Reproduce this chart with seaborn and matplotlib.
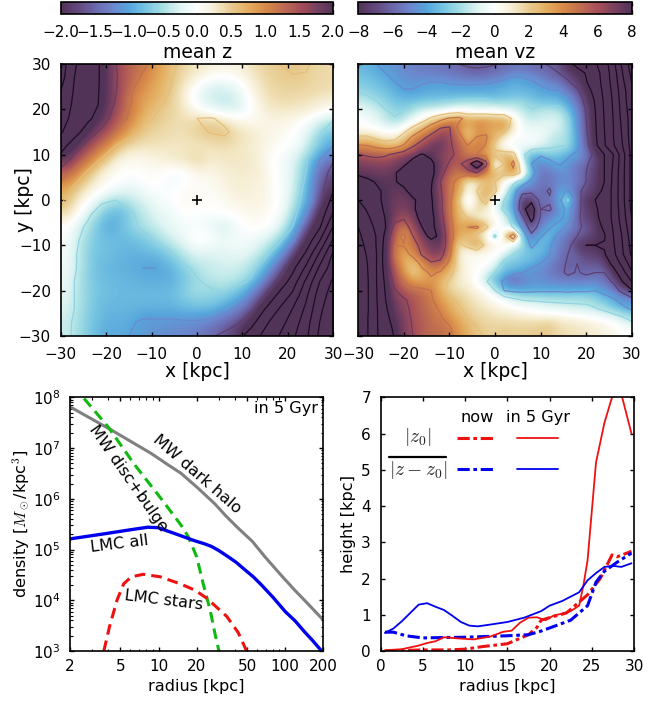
import numpy as np
import matplotlib
matplotlib.use('Agg')
import matplotlib.pyplot as plt
from matplotlib.colors import LinearSegmentedColormap, Normalize
from matplotlib.cm import ScalarMappable
import seaborn as sns

# mean z map [kpc], rows y = 30 ... -30, columns x = -30 ... 30, step 3 kpc
mean_z = [
    [3.3, 2.55, 2.25, 1.95, 1.52, 1.3, 1.1, .85, .6, .4, .3, .2, .15, .15, .3, .42, .5, .53, .53, .42, .4],
    [3.2, 2.5, 2.25, 1.95, 1.55, 1.25, .95, .75, .55, .3, .05, -.2, -.2, -.1, .15, .35, .45, .49, .48, .42, .4],
    [3.0, 2.45, 2.2, 1.95, 1.55, 1.05, .85, .7, .5, .2, -.2, -.35, -.4, -.3, 0, .3, .4, .4, .38, .35, .3],
    [2.85, 2.4, 2.15, 1.95, 1.45, 1.05, .75, .55, .45, .3, 0, -.15, -.3, -.3, -.05, .2, .3, .3, .28, .2, .05],
    [2.7, 2.35, 2.1, 1.75, 1.3, .95, .58, .48, .4, .35, .5, .53, .42, .2, .1, .1, .15, .1, 0, -.2, -.45],
    [2.55, 2.2, 1.75, 1.4, 1.0, .65, .45, .4, .35, .35, .42, .52, .56, .4, .3, .2, .1, .05, -.1, -.45, -.8],
    [2.2, 1.75, 1.35, .95, .5, .3, .3, .3, .3, .3, .3, .3, .35, .3, .25, .15, .05, -.05, -.2, -.6, -1.0],
    [1.85, 1.35, .9, .45, .12, .05, .1, .15, .25, .3, .45, .25, .3, .3, .3, .15, -.05, -.15, -.45, -1.0, -1.45],
    [1.3, .85, .4, .1, 0, 0, .05, .05, -.1, -.1, .1, .1, .2, .25, .25, .2, 0, -.15, -.5, -1.2, -1.7],
    [.85, .45, .2, .05, -.1, -.2, -.05, 0, -.1, .05, .05, .05, .15, .25, .2, .15, 0, -.15, -.6, -1.3, -1.9],
    [.6, .2, -.1, -.4, -.5, -.35, -.25, -.1, 0, .1, .05, .05, .05, .15, .2, .15, .05, -.2, -.7, -1.3, -2.2],
    [.42, -.05, -.4, -.75, -.9, -.6, -.35, -.2, -.15, 0, 0, -.05, .05, .05, .1, .1, 0, -.3, -.9, -1.65, -2.55],
    [0, -.3, -.6, -1.0, -.85, -.6, -.45, -.3, -.15, -.1, -.1, -.15, -.35, -.1, .05, .05, -.1, -.5, -1.3, -1.95, -3.05],
    [-.05, -.4, -.7, -.8, -.85, -.8, -.7, -.5, -.3, -.15, .1, 0, -.15, -.1, -.1, -.2, -.4, -.9, -1.65, -2.5, -3.6],
    [-.1, -.45, -.75, -.8, -.85, -.9, -.85, -.8, -.6, -.35, -.2, -.25, -.2, -.15, -.2, -.4, -.8, -1.4, -2.1, -3.1, -4.1],
    [-.1, -.45, -.75, -.85, -.9, -.95, -1.0, -1.0, -.85, -.6, -.4, -.35, -.3, -.3, -.4, -.7, -1.25, -1.85, -2.6, -3.6, -4.3],
    [-.15, -.5, -.75, -.85, -.85, -.9, -.95, -.95, -.95, -.75, -.55, -.4, -.35, -.4, -.55, -1.1, -1.65, -2.2, -3.1, -4.0, -4.6],
    [-.2, -.5, -.7, -.8, -.85, -.85, -.85, -.85, -.85, -.65, -.5, -.6, -.55, -.7, -1.05, -1.55, -2.1, -2.6, -3.4, -4.25, -4.75],
    [-.25, -.5, -.75, -.85, -.85, -.85, -.85, -.85, -.85, -.75, -.7, -.7, -.85, -1.1, -1.4, -2.0, -2.5, -3.0, -3.6, -4.4, -4.85],
    [-.3, -.55, -.75, -.9, -.9, -.95, -1.05, -1.05, -1.05, -1.05, -1.05, -1.1, -1.3, -1.45, -1.85, -2.4, -2.8, -3.2, -3.8, -4.5, -4.95],
    [-.35, -.55, -.8, -.95, -.95, -1.0, -1.1, -1.15, -1.2, -1.25, -1.3, -1.45, -1.6, -1.85, -2.25, -2.65, -3.0, -3.4, -3.9, -4.6, -5.0],
]

# mean vz map [km/s], rows y = 30 ... -30, columns x = -30 ... 30, step 2 kpc
mean_vz = [
    [-3.5, -3.7, -4, -4.4, -4.7, -5, -5.2, -5.3, -5.4, -5.5, -5.7, -6, -6.3, -6.4, -6.3, -6.1, -5.8, -5.6, -5.5, -5.7, -5.9, -6.1, -6.4, -7.6, -8.4, -9, -9.8, -11, -13.5, -16.5, -19],
    [-3, -3.3, -3.6, -4, -4.4, -4.7, -4.8, -4.8, -4.9, -5, -5.1, -5.3, -5.4, -5.5, -5.4, -5.2, -4.8, -4.3, -4.3, -4.6, -5, -5.7, -6, -6.6, -7.4, -8.1, -9.2, -10.8, -13, -16, -18.5],
    [-2.7, -2.9, -3.2, -3.6, -4, -4.4, -4.3, -4.1, -4, -4, -4.1, -4.2, -4.2, -4.2, -4.1, -4, -3.8, -3.6, -3.7, -3.9, -4.2, -4.5, -4.8, -5.8, -6.8, -7.9, -9, -10.7, -12.8, -15.6, -18],
    [-2.1, -2.4, -2.7, -3.1, -3.6, -3.9, -3.9, -3.7, -3.6, -3.6, -3.6, -3.5, -3.5, -3.5, -3.6, -3.6, -3.4, -3.2, -3.2, -3.4, -3.7, -3.9, -3.9, -4.6, -5.6, -7.2, -8.6, -10.5, -12.5, -15.2, -17.5],
    [-1.3, -1.6, -2.1, -2.6, -3, -3, -2.7, -2.5, -2.4, -2.2, -2, -1.8, -1.7, -1.6, -1.7, -2, -2, -1.9, -2, -2.5, -2.8, -2.9, -3, -3.6, -4.9, -6.6, -8.2, -10.3, -12.3, -15, -17.5],
    [-.6, -.9, -1.4, -2, -2.4, -2.2, -1.4, -.8, -.5, -.2, .2, .6, .3, -.2, -.2, .2, -.3, -.7, -1.4, -2, -1.5, -1.5, -1.4, -2.5, -4.2, -6.2, -8, -10.2, -12.2, -14.8, -17.2],
    [-.1, -.5, -1, -1.7, -1.9, -1, -.1, 1, 2.3, 3.4, 4.2, 4.4, 3.5, 4, 4, 3.3, 3.6, 1.5, -.5, -1.3, -1.2, -1.1, -1, -1.8, -3.7, -6, -7.9, -10.1, -12.1, -14.6, -17],
    [.4, .2, -.1, -.3, -.2, .9, 2.2, 3.4, 4.8, 5.9, 6.1, 3.5, 2.2, 3.8, 3.3, 3, 3.2, 1, -.3, -.6, -.5, -.8, -1.2, -1.7, -3.6, -5.9, -7.8, -10, -12, -14.4, -17],
    [2.1, 2.1, 1.4, 1, 1.3, 2.7, 4.2, 5.4, 6.4, 7, 6.2, 4.8, 2.4, 4, 4.2, 2.6, 1, -.2, -.2, -.2, -.4, -1.2, -1.8, -1.9, -3.4, -5.7, -7.7, -9.9, -12, -14.2, -17],
    [4.2, 4, 3.5, 3, 3.2, 4.2, 5.8, 6.8, 7.5, 7.3, 6.2, 5.5, 4, 4.6, 3.9, 1.5, 0, -.5, -.6, -.8, -1.2, -1.6, -1.9, -2, -3.5, -5.4, -7.5, -9.8, -11.8, -14, -16.8],
    [6.1, 5.8, 5.6, 5.8, 6.4, 7, 7.7, 8.1, 7.7, 6.5, 6.5, 5.5, 4.5, 4, 3.5, 2.5, 3, 3, -1.5, -3.5, -3.8, -3, -3.2, -3.8, -4.3, -4.8, -6.6, -8, -10, -13.2, -16.6],
    [7, 6.9, 6.8, 6.9, 7.3, 7.8, 8.4, 8.5, 8.3, 7.3, 5.8, 5.6, 7, 10, 7, -1, 2, 4.5, .5, -4, -5, -4.8, -3.8, -4.3, -5.2, -5.8, -6.8, -8, -10.2, -13.3, -16.6],
    [7.7, 7.5, 7.3, 7.4, 7.9, 8.5, 8.8, 9, 8.6, 6.7, 5, 4.5, 5.5, 6, 3.5, 3, 2.5, 3.5, 1.5, -3, -5.3, -5.4, -5, -4.6, -5.3, -6, -7, -8, -10.4, -13.4, -16.6],
    [8.7, 8.3, 7.9, 7.7, 7.9, 8.4, 9, 8.8, 8.2, 6, 4.5, 3.5, .5, 1, 2.5, 2, .2, -1.5, -3, -4.5, -5.5, -5.5, -5, -4.8, -5, -6, -7.2, -8, -10.5, -13.4, -16.6],
    [9.5, 8.8, 8.2, 7.8, 7.5, 7.7, 8.6, 8.7, 8, 6.2, 4.6, 3, .2, 2, 3, 2.5, -.5, -3.2, -5.5, -5.5, -5.5, -6.2, -4.6, -3.8, -5.5, -6.6, -7.4, -8.3, -10.6, -13.4, -16.6],
    [10, 9.3, 8.4, 7.6, 7.3, 7.3, 7.8, 8.5, 8.2, 6.4, 4.5, 2, -1, 1.2, 3, -.3, -2, -3.5, -7, -7.6, -5.5, -5.8, -4.6, -1.8, -4.8, -7.5, -8, -8.2, -10.6, -13.4, -16.6],
    [10.8, 9.8, 8.7, 7.7, 7, 7, 7.8, 8.6, 8.3, 6.4, 4.3, 2.5, .3, 1.8, 1, -.5, -2.5, -3.5, -7.5, -9, -6, -6.2, -5, -3.4, -5.2, -7.2, -7.8, -8.6, -10.5, -13.2, -16.4],
    [11.4, 10.3, 9.2, 7.9, 6.6, 6.2, 7.5, 8.4, 8.5, 6.8, 4.5, 2.5, 2, .8, .6, .2, -.7, -3, -5.5, -8.7, -5.8, -5.2, -4.5, -3.4, -5.5, -7, -7.5, -8.8, -10.4, -13, -16],
    [12, 10.8, 9.6, 8, 5.4, 4.8, 7, 8, 8.4, 7.2, 4.6, 3, 4, 4.4, 2.5, .5, -.5, -2.2, -4.3, -7, -5.3, -4.2, -3.2, -4.5, -5.6, -6.4, -7, -8.4, -10.2, -12.6, -15.5],
    [12.4, 11.2, 9.9, 7.5, 4.5, 3.6, 6, 7.6, 8.3, 7.8, 4.8, 3, 2.5, 1.5, .2, -2.5, 1, 6, -2.5, -5.5, -4.2, -3, -4.6, -5.2, -6, -6.3, -7.3, -7.8, -10, -12.2, -15],
    [12.8, 11.5, 9.9, 7.2, 4, 4.1, 5, 6.8, 7.4, 7.6, 4.8, 1.5, 2.5, 3.8, 1.5, .5, .5, -.5, -1.5, -4.5, -3, -3.8, -5, -5.5, -7, -8, -8, -8.2, -9.8, -12, -14.7],
    [13.1, 11.8, 10, 7, 3.8, 3.2, 4.5, 6.2, 7, 6.8, 4.5, .8, .3, .5, .3, .2, -.5, -2, -2.8, -3, -3.4, -4, -5, -6, -6.2, -7.2, -7.4, -7.8, -9.5, -11.8, -14.3],
    [13.4, 12, 10, 7, 4.2, 2.6, 2.8, 4.6, 5.8, 5.5, 3.6, 1, .3, .2, .2, -.3, -2.8, -2.8, -3, -3.5, -4, -4.8, -5.4, -6.2, -6, -6.5, -6.7, -6.8, -8.6, -10.6, -13],
    [13.6, 12.1, 10, 7.3, 5, 2.9, 1.8, 3.4, 4.3, 3.8, 2.6, 1.2, .4, .2, -.5, -2, -3, -3.5, -4, -4.5, -4.8, -5.2, -5.6, -6.3, -5.9, -6.2, -6, -6, -7.2, -9.3, -11.8],
    [13.7, 12.2, 10, 7.6, 5.5, 4, 3, 3.2, 3.6, 2.8, 1.8, 1, .5, -.2, -1.8, -3.3, -4.3, -6, -5.2, -4.6, -4.6, -5, -5.2, -5.3, -5.4, -5.5, -5.3, -5.4, -6.2, -8, -10],
    [13.8, 12.2, 10.1, 7.8, 6.2, 5, 4.6, 4.3, 4, 2.5, 1.6, 1.2, 1, .1, -.2, -2, -4, -4.3, -4.4, -4.3, -4.2, -4.2, -4.2, -4.3, -4.2, -4.2, -4, -4.6, -5.2, -6.5, -7.8],
    [13.8, 12.2, 10.1, 8, 6.6, 6.2, 5.5, 4.9, 4.2, 3.2, 2.4, 1.8, 1.4, 1, .4, -.2, -.9, -1.6, -2.1, -2.2, -2.3, -2.4, -2.4, -2.4, -2.4, -2.4, -2.6, -3.2, -3.8, -4.6, -5.4],
    [13.8, 12.2, 10.2, 8.2, 7, 6.4, 5.7, 5.1, 4.5, 3.8, 2.9, 2.2, 1.7, 1.3, 1, .6, .2, -.2, -.5, -.7, -.8, -1, -1.2, -1.4, -1.5, -1.6, -1.9, -2.3, -2.9, -3.6, -4.2],
    [13.9, 12.1, 10.2, 8.4, 7.4, 6.6, 5.8, 5.3, 4.7, 4.2, 3.4, 2.6, 2, 1.6, 1.5, 1.2, 1, .9, .6, .4, .2, .1, .1, -.1, -.2, -.4, -.6, -.9, -1.3, -1.8, -2.6],
    [14, 12.1, 10.2, 8.6, 7.7, 6.7, 5.9, 5.4, 4.9, 4.7, 4.1, 3.2, 2.5, 2, 1.7, 1.7, 1.7, 1.6, 1.6, 1.6, 1.7, 2, 1.5, 1.2, 1.1, .9, .7, .5, .2, -.3, -1],
    [14, 12.1, 10.2, 8.8, 7.9, 6.8, 6, 5.4, 5, 5, 4.3, 3.6, 2.8, 2.2, 1.9, 1.8, 2, 1.9, 1.9, 1.9, 2, 2, 1.6, 1.4, 1.3, 1.2, 1, .8, .5, .2, 0],
]

# density profiles, radius [kpc] and density [Msun/kpc^3]
r_halo = [2, 4.24, 8.77, 12, 15.1, 20.5, 27.9, 34, 42.6, 55, 69.2, 90, 119, 150, 200]
rho_halo = [6.5e7, 2.27e7, 7.8e6, 4.6e6, 3.16e6, 1.62e6, 7.9e5, 4.6e5, 2.63e5, 1.45e5, 7.2e4, 3.4e4, 1.58e4, 8.7e3, 4.07e3]
r_disc = [2.58, 3.99, 6.47, 10.5, 15.1, 17.2, 20, 22.5, 25.6, 27.9, 30]
rho_disc = [9.5e7, 2.63e7, 4.7e6, 1e6, 3e5, 1.78e5, 7.2e4, 2.14e4, 6.3e3, 2.2e3, 1e3]
r_lmc = [2, 3.54, 6, 8.2, 9.9, 14.3, 19.4, 23, 26.2, 30, 35.5, 41, 48, 56, 65, 80, 100, 120, 143, 165, 194]
rho_lmc = [1.62e5, 2e5, 2.45e5, 2.75e5, 2.7e5, 1.95e5, 1.48e5, 1.3e5, 1.15e5, 9.5e4, 7.2e4, 5.6e4, 4e4, 2.9e4, 2e4, 1.15e4, 6e3, 3.9e3, 2.35e3, 1.6e3, 1e3]
r_stars = [3.7, 4.1, 4.7, 5.3, 6.1, 7.6, 10.3, 14.9, 19.4, 24, 34.6, 42.6, 49.6]
rho_stars = [1e3, 3e3, 1e4, 2.1e4, 2.9e4, 3.25e4, 2.9e4, 2.1e4, 1.58e4, 1.1e4, 4.8e3, 2.3e3, 1e3]

# disc height profiles, radius [kpc] and height [kpc]
r_z0_now = [.5, 5, 8, 10, 12, 15, 17.5, 18.5, 19, 20, 22, 23.5, 24.5, 26, 27.4, 28, 29.7]
z0_now = [0, .03, .03, .05, .12, .2, .45, .65, .85, .92, 1.05, 1.35, 1.55, 2.0, 2.65, 2.6, 2.75]
r_dz_now = [.5, 1.5, 3, 5, 7, 10, 15, 17.5, 19, 21, 22.5, 24.5, 25.5, 26.5, 28, 29.7]
dz_now = [.52, .52, .42, .36, .37, .38, .42, .45, .55, .72, .85, 1.25, 1.9, 2.2, 2.45, 2.7]
r_z0_later = [.5, 2.5, 4.5, 5.5, 6.5, 7.5, 9, 11, 13, 14.5, 15.5, 16.5, 17.5, 18.5, 19.5, 20.5, 21.5, 22.5, 23.5, 24, 24.5, 25.5, 26.5, 27.4, 28, 28.6, 29.7]
z0_later = [.02, .05, .15, .22, .27, .38, .35, .32, .4, .53, .56, .78, .92, .93, .85, .98, 1.03, 1.1, 1.25, 1.8, 2.5, 5.2, 6.3, 7.0, 7.4, 7.0, 6.0]
r_dz_later = [.5, 1.5, 2.5, 3.5, 4.5, 5.5, 6.5, 7.5, 8.5, 9.5, 10.5, 11.5, 13, 15, 17, 19, 20, 21.5, 23.5, 24.5, 25.5, 26.5, 27.5, 28.5, 29.7]
dz_later = [.5, .62, .82, 1.05, 1.28, 1.32, 1.22, 1.13, .97, .8, .7, .68, .73, .8, .92, 1.1, 1.25, 1.38, 1.62, 1.95, 2.15, 2.32, 2.35, 2.32, 2.42]

cmap_stops = ['#523358', '#62487c', '#6c68ac', '#6c86cc', '#56a6dc', '#78c6e2',
              '#a8e0e4', '#e0f5f3', '#ffffff', '#f6eed2', '#e8cc90', '#e4ae60',
              '#d88a48', '#c06e50', '#a85058', '#7c4060', '#523358']
map_ticks = [-30, -20, -10, 0, 10, 20, 30]

sns.set_theme(style='ticks')
plt.rcParams['font.family'] = ['DejaVu Sans']
plt.rcParams['mathtext.fontset'] = 'cm'
plt.rcParams['axes.linewidth'] = 1.2
plt.rcParams['text.color'] = 'black'
plt.rcParams['axes.labelcolor'] = 'black'
plt.rcParams['axes.edgecolor'] = 'black'

W, H = 665, 702
fig = plt.figure(figsize=(W / 100, H / 100), dpi=100)


def place(x0, x1, y0, y1):
    return fig.add_axes([x0 / W, 1 - y1 / H, (x1 - x0) / W, (y1 - y0) / H])


def inward(ax, xpad, ypad=7, size=11):
    ax.tick_params(which='major', direction='in', top=True, right=True,
                   bottom=True, left=True, length=3.2, width=1, labelsize=size,
                   color='black', labelcolor='black')
    ax.tick_params(which='minor', direction='in', top=True, right=True,
                   bottom=True, left=True, length=1.8, width=.8, color='black')
    ax.tick_params(axis='x', which='major', pad=xpad)
    ax.tick_params(axis='y', which='major', pad=ypad)


vik = LinearSegmentedColormap.from_list('vik_like', cmap_stops, N=256)


def draw_map(ax, cax, grid, vmax, step, title, cticks, clabels):
    grid = np.array(grid, dtype=float)
    n = grid.shape[0]
    xs = np.linspace(-30, 30, n)
    ys = np.linspace(30, -30, n)
    norm = Normalize(-vmax, vmax)
    ax.imshow(grid, extent=[-30, 30, -30, 30], cmap=vik, norm=norm,
              interpolation='bicubic', aspect='auto')
    # contours a bit further along the colour map; black-ish beyond its range
    levels = np.arange(-10, 11) * step
    levels = levels[levels != 0]
    cols = []
    for lev in levels:
        if abs(lev) >= vmax:
            cols.append('#1c0c24')
        else:
            cols.append(vik(norm(lev * 1.22)))
    ax.contour(xs, ys, grid, levels=levels, colors=cols, linewidths=.9, linestyles='solid')
    ax.plot([0], [0], marker='+', color='black', ms=7, mew=1.2)
    ax.set_xlim(-30, 30)
    ax.set_ylim(-30, 30)
    ax.set_xticks(map_ticks)
    ax.set_yticks(map_ticks)
    inward(ax, 8)
    ax.set_title(title, fontsize=13.5, pad=4)

    cb = fig.colorbar(ScalarMappable(norm=norm, cmap=vik), cax=cax, orientation='horizontal')
    cb.set_ticks(cticks)
    cb.set_ticklabels(clabels)
    cb.outline.set_linewidth(1.2)
    cb.minorticks_off()
    cax.tick_params(direction='in', bottom=True, top=True, length=3, width=1,
                    labelsize=11, pad=8, color='black', labelcolor='black')


ax_z = place(60.7, 333.3, 64, 336)
cax_z = place(60.7, 333.3, 2, 14.3)
draw_map(ax_z, cax_z, mean_z, 2, .5, 'mean z',
         [-2, -1.5, -1, -.5, 0, .5, 1, 1.5, 2],
         ['\u22122.0', '\u22121.5', '\u22121.0', '\u22120.5', '0.0', '0.5', '1.0', '1.5', '2.0'])
ax_z.set_xlabel('x [kpc]', fontsize=13.5, labelpad=0)
ax_z.set_ylabel('y [kpc]', fontsize=13.5)
ax_z.yaxis.set_label_coords(-.098, .5)

ax_v = place(358.3, 631.7, 64, 336)
cax_v = place(358.3, 631.7, 2, 14.3)
draw_map(ax_v, cax_v, mean_vz, 8, 2, 'mean vz',
         [-8, -6, -4, -2, 0, 2, 4, 6, 8],
         ['\u22128', '\u22126', '\u22124', '\u22122', '0', '2', '4', '6', '8'])
ax_v.set_yticklabels([])
ax_v.set_xlabel('x [kpc]', fontsize=13.5, labelpad=0)

# density panel
ax_d = place(70, 323.3, 397.3, 651)
sns.lineplot(x=r_halo, y=rho_halo, ax=ax_d, color='#808080', lw=2.2, estimator=None, sort=False)
sns.lineplot(x=r_disc, y=rho_disc, ax=ax_d, color='#10b810', lw=2.2, estimator=None, sort=False, linestyle=(0, (3.5, 2)))
sns.lineplot(x=r_lmc, y=rho_lmc, ax=ax_d, color='#0000ee', lw=2.4, estimator=None, sort=False)
sns.lineplot(x=r_stars, y=rho_stars, ax=ax_d, color='#ee1111', lw=2.2, estimator=None, sort=False, linestyle=(0, (3.5, 2)))
ax_d.set_xscale('log')
ax_d.set_yscale('log')
ax_d.set_xlim(2, 200)
ax_d.set_ylim(1e3, 1e8)
ax_d.set_xticks([2, 5, 10, 20, 50, 100, 200])
ax_d.set_xticklabels(['2', '5', '10', '20', '50', '100', '200'])
ax_d.set_yticks([1e3, 1e4, 1e5, 1e6, 1e7, 1e8])
inward(ax_d, 6)
ax_d.set_xlabel('radius [kpc]', fontsize=11.6, labelpad=3)
ax_d.set_ylabel(r'density [$M_\odot$/kpc$^3$]', fontsize=11.6)
ax_d.yaxis.set_label_coords(-.15, .5)
ax_d.text(.98, .955, 'in 5 Gyr', transform=ax_d.transAxes, ha='right', va='center', fontsize=11.6)
ax_d.text(20, 3e6, 'MW dark halo', rotation=-41, ha='center', va='center', fontsize=11.6)
ax_d.text(5.76, 2.5e6, 'MW disc+bulge', rotation=-55, ha='center', va='center', fontsize=11.6)
ax_d.text(4.95, 1.3e5, 'LMC all', rotation=7, ha='center', va='center', fontsize=11.6)
ax_d.text(10.97, 1e4, 'LMC stars', rotation=-7, ha='center', va='center', fontsize=11.6)

# height panel
ax_h = place(380.7, 634, 397.3, 651)
dashdot = (0, (4, 1.2, 1.2, 1.2))
sns.lineplot(x=r_z0_now, y=z0_now, ax=ax_h, color='#ee1111', lw=2.2, estimator=None, sort=False, linestyle=dashdot)
sns.lineplot(x=r_dz_now, y=dz_now, ax=ax_h, color='#0000ee', lw=2.2, estimator=None, sort=False, linestyle=dashdot)
sns.lineplot(x=r_z0_later, y=z0_later, ax=ax_h, color='#ee1111', lw=1.3, estimator=None, sort=False)
sns.lineplot(x=r_dz_later, y=dz_later, ax=ax_h, color='#0000ee', lw=1.3, estimator=None, sort=False)
ax_h.set_xlim(0, 30)
ax_h.set_ylim(0, 7)
ax_h.set_xticks([0, 5, 10, 15, 20, 25, 30])
ax_h.set_yticks(range(8))
inward(ax_h, 6)
ax_h.set_xlabel('radius [kpc]', fontsize=11.6, labelpad=3)
ax_h.set_ylabel('height [kpc]', fontsize=11.6)
ax_h.yaxis.set_label_coords(-.097, .5)

ax_h.text(11.4, 6.45, 'now', ha='center', va='center', fontsize=11.6)
ax_h.text(18.6, 6.45, 'in 5 Gyr', ha='center', va='center', fontsize=11.6)
ax_h.text(4.4, 5.9, r'$|z_0|$', ha='center', va='center', fontsize=14, color='#222222')
ax_h.text(4.4, 5.0, r'$|z-z_0|$', ha='center', va='center', fontsize=14, color='#222222')
ax_h.plot([1, 7.7], [5.36, 5.36], color='black', lw=1.6)
ax_h.plot([9, 13.7], [5.87, 5.87], color='#ee1111', lw=2.2, linestyle=dashdot)
ax_h.plot([16.1, 21], [5.87, 5.87], color='#ee1111', lw=1.3)
ax_h.plot([9, 13.7], [5.03, 5.03], color='#0000ee', lw=2.2, linestyle=dashdot)
ax_h.plot([16.1, 21], [5.03, 5.03], color='#0000ee', lw=1.3)

fig.savefig('out.png', dpi=100)
